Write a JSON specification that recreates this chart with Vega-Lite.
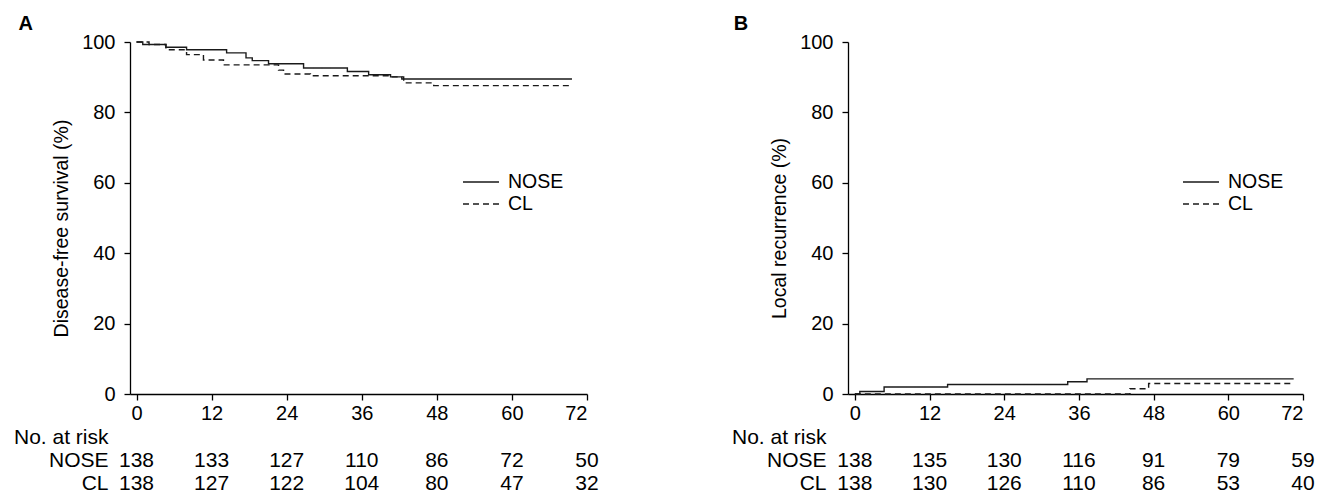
{
  "$schema": "https://vega.github.io/schema/vega-lite/v6.json",
  "padding": {"left": 13, "top": 14, "right": 5, "bottom": 5},
  "background": "white",
  "config": {
    "font": "Liberation Sans",
    "view": {"stroke": null},
    "axis": {"domainColor": "#000", "tickColor": "#000", "labelColor": "#000", "titleColor": "#000", "domainWidth": 1.3, "tickWidth": 1.3, "tickSize": 6, "labelFontSize": 20, "titleFontSize": 19.5, "titleFontWeight": "normal", "grid": false, "labelFont": "Liberation Sans", "titleFont": "Liberation Sans"},
    "text": {"font": "Liberation Sans", "color": "#000"}
  },
  "datasets": {
    "dfs": [
      {"group": "NOSE", "month": 0, "value": 100},
      {"group": "NOSE", "month": 1.0, "value": 99.3},
      {"group": "NOSE", "month": 4.7, "value": 98.5},
      {"group": "NOSE", "month": 8.0, "value": 97.8},
      {"group": "NOSE", "month": 14.4, "value": 96.9},
      {"group": "NOSE", "month": 17.5, "value": 95.5},
      {"group": "NOSE", "month": 18.5, "value": 94.7},
      {"group": "NOSE", "month": 21.1, "value": 93.8},
      {"group": "NOSE", "month": 26.7, "value": 92.6},
      {"group": "NOSE", "month": 33.7, "value": 91.6},
      {"group": "NOSE", "month": 37.1, "value": 90.7},
      {"group": "NOSE", "month": 40.6, "value": 90.1},
      {"group": "NOSE", "month": 42.4, "value": 89.5},
      {"group": "NOSE", "month": 69.6, "value": 89.5},
      {"group": "CL", "month": 0, "value": 100},
      {"group": "CL", "month": 2.0, "value": 99.3},
      {"group": "CL", "month": 4.7, "value": 97.8},
      {"group": "CL", "month": 8.0, "value": 96.4},
      {"group": "CL", "month": 10.7, "value": 94.9},
      {"group": "CL", "month": 13.9, "value": 93.5},
      {"group": "CL", "month": 22.7, "value": 92.0},
      {"group": "CL", "month": 23.5, "value": 90.9},
      {"group": "CL", "month": 27.8, "value": 90.4},
      {"group": "CL", "month": 40.6, "value": 90.1},
      {"group": "CL", "month": 42.7, "value": 88.4},
      {"group": "CL", "month": 47.5, "value": 87.6},
      {"group": "CL", "month": 69.6, "value": 87.6}
    ],
    "lr": [
      {"group": "NOSE", "month": 0, "value": 0},
      {"group": "NOSE", "month": 0.8, "value": 0.7},
      {"group": "NOSE", "month": 4.7, "value": 2.0},
      {"group": "NOSE", "month": 14.9, "value": 2.7},
      {"group": "NOSE", "month": 34.2, "value": 3.5},
      {"group": "NOSE", "month": 37.3, "value": 4.3},
      {"group": "NOSE", "month": 70.5, "value": 4.3},
      {"group": "CL", "month": 0, "value": 0},
      {"group": "CL", "month": 44.2, "value": 1.5},
      {"group": "CL", "month": 47.2, "value": 3.0},
      {"group": "CL", "month": 70.3, "value": 3.0}
    ],
    "riskA": [
      {"row": "NOSE", "month": 0, "n": 138}, {"row": "NOSE", "month": 12, "n": 133}, {"row": "NOSE", "month": 24, "n": 127}, {"row": "NOSE", "month": 36, "n": 110}, {"row": "NOSE", "month": 48, "n": 86}, {"row": "NOSE", "month": 60, "n": 72}, {"row": "NOSE", "month": 72, "n": 50},
      {"row": "CL", "month": 0, "n": 138}, {"row": "CL", "month": 12, "n": 127}, {"row": "CL", "month": 24, "n": 122}, {"row": "CL", "month": 36, "n": 104}, {"row": "CL", "month": 48, "n": 80}, {"row": "CL", "month": 60, "n": 47}, {"row": "CL", "month": 72, "n": 32}
    ],
    "riskB": [
      {"row": "NOSE", "month": 0, "n": 138}, {"row": "NOSE", "month": 12, "n": 135}, {"row": "NOSE", "month": 24, "n": 130}, {"row": "NOSE", "month": 36, "n": 116}, {"row": "NOSE", "month": 48, "n": 91}, {"row": "NOSE", "month": 60, "n": 79}, {"row": "NOSE", "month": 72, "n": 59},
      {"row": "CL", "month": 0, "n": 138}, {"row": "CL", "month": 12, "n": 130}, {"row": "CL", "month": 24, "n": 126}, {"row": "CL", "month": 36, "n": 110}, {"row": "CL", "month": 48, "n": 86}, {"row": "CL", "month": 60, "n": 53}, {"row": "CL", "month": 72, "n": 40}
    ]
  },
  "hconcat": [
    {
      "vconcat": [
        {
          "width": 457, "height": 352,
          "layer": [
            {
              "data": {"name": "dfs"},
              "mark": {"type": "line", "interpolate": "step-after", "color": "#1a1a1a", "strokeWidth": 1.4},
              "encoding": {
                "x": {"field": "month", "type": "quantitative", "scale": {"domain": [-1.04, 72], "nice": false, "zero": false}, "axis": {"values": [0, 12, 24, 36, 48, 60, 72], "title": null, "labelPadding": 3}},
                "y": {"field": "value", "type": "quantitative", "scale": {"domain": [0, 100], "nice": false}, "axis": {"values": [0, 20, 40, 60, 80, 100], "title": "Disease-free survival (%)", "labelPadding": 9, "titlePadding": 10, "titleY": 186}},
                "strokeDash": {"field": "group", "type": "nominal", "scale": {"domain": ["NOSE", "CL"], "range": [[1, 0], [6, 4]]},
                  "legend": {"orient": "none", "legendX": 332, "legendY": 131, "title": null, "symbolType": "stroke", "symbolSize": 1296, "symbolStrokeWidth": 1.4, "symbolStrokeColor": "#1a1a1a", "labelFontSize": 19.5, "labelOffset": 8, "clipHeight": 18, "rowPadding": 2, "labelColor": "#000", "labelFont": "Liberation Sans"}}
              }
            },
            {
              "data": {"values": [{}]},
              "mark": {"type": "text", "fontSize": 20, "fontWeight": "bold"},
              "encoding": {"x": {"datum": -17.7, "type": "quantitative"}, "y": {"datum": 105, "type": "quantitative"}, "text": {"value": "A"}}
            }
          ]
        },
        {
          "width": 457, "height": 69,
          "data": {"name": "riskA"},
          "mark": {"type": "text", "fontSize": 21},
          "encoding": {
            "x": {"field": "month", "type": "quantitative", "scale": {"domain": [-1.04, 72], "nice": false, "zero": false}, "axis": null},
            "y": {"field": "row", "type": "ordinal", "scale": {"domain": ["No. at risk", "NOSE", "CL"]}, "axis": {"title": null, "domain": false, "ticks": false, "labelPadding": 22, "labelFontSize": 21}},
            "text": {"field": "n"}
          }
        }
      ],
      "spacing": 3,
      "resolve": {"scale": {"y": "independent"}}
    },
    {
      "vconcat": [
        {
          "width": 455, "height": 352,
          "layer": [
            {
              "data": {"name": "lr"},
              "mark": {"type": "line", "interpolate": "step-after", "color": "#1a1a1a", "strokeWidth": 1.4},
              "encoding": {
                "x": {"field": "month", "type": "quantitative", "scale": {"domain": [-1.1, 72], "nice": false, "zero": false}, "axis": {"values": [0, 12, 24, 36, 48, 60, 72], "title": null, "labelPadding": 3}},
                "y": {"field": "value", "type": "quantitative", "scale": {"domain": [0, 100], "nice": false}, "axis": {"values": [0, 20, 40, 60, 80, 100], "title": "Local recurrence (%)", "labelPadding": 9, "titlePadding": 10, "titleY": 186}},
                "strokeDash": {"field": "group", "type": "nominal", "scale": {"domain": ["NOSE", "CL"], "range": [[1, 0], [6, 4]]},
                  "legend": {"orient": "none", "legendX": 334, "legendY": 131, "title": null, "symbolType": "stroke", "symbolSize": 1296, "symbolStrokeWidth": 1.4, "symbolStrokeColor": "#1a1a1a", "labelFontSize": 19.5, "labelOffset": 8, "clipHeight": 18, "rowPadding": 2, "labelColor": "#000", "labelFont": "Liberation Sans"}}
              }
            },
            {
              "data": {"values": [{}]},
              "mark": {"type": "text", "fontSize": 20, "fontWeight": "bold"},
              "encoding": {"x": {"datum": -18.3, "type": "quantitative"}, "y": {"datum": 105, "type": "quantitative"}, "text": {"value": "B"}}
            }
          ]
        },
        {
          "width": 455, "height": 69,
          "data": {"name": "riskB"},
          "mark": {"type": "text", "fontSize": 21},
          "encoding": {
            "x": {"field": "month", "type": "quantitative", "scale": {"domain": [-1.1, 72], "nice": false, "zero": false}, "axis": null},
            "y": {"field": "row", "type": "ordinal", "scale": {"domain": ["No. at risk", "NOSE", "CL"]}, "axis": {"title": null, "domain": false, "ticks": false, "labelPadding": 22, "labelFontSize": 21}},
            "text": {"field": "n"}
          }
        }
      ],
      "spacing": 3,
      "resolve": {"scale": {"y": "independent"}}
    }
  ],
  "spacing": 132,
  "resolve": {"scale": {"x": "independent", "y": "independent", "strokeDash": "independent"}, "legend": {"strokeDash": "independent"}}
}
